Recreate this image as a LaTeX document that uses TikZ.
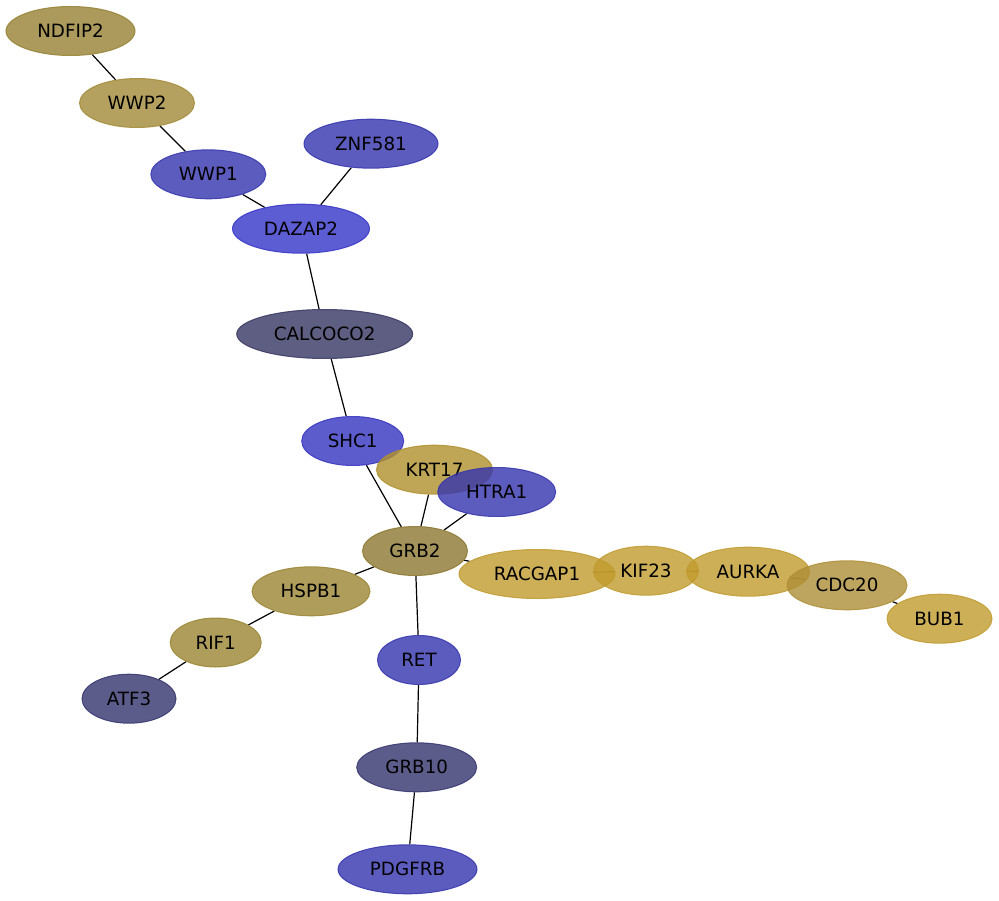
\documentclass[tikz,border=0pt]{standalone}
\usepackage{fontspec}
\setmainfont{DejaVu Sans}
\usetikzlibrary{shapes.geometric,backgrounds}
\definecolor{cgrb}{RGB}{140,119,48}
\definecolor{cndf}{RGB}{150,129,51}
\definecolor{cwwp}{RGB}{163,138,55}
\definecolor{chsp}{RGB}{155,133,51}
\definecolor{ckrt}{RGB}{176,144,46}
\definecolor{cgold}{RGB}{193,155,46}
\definecolor{ccdc}{RGB}{174,143,55}
\definecolor{cblue}{RGB}{52,52,174}
\definecolor{cdaz}{RGB}{52,52,201}
\definecolor{cshc}{RGB}{52,52,193}
\definecolor{ccal}{RGB}{54,54,99}
\definecolor{cslate}{RGB}{52,52,111}
\tikzset{
  gene/.style={ellipse, inner sep=0pt, minimum height=49, line width=1pt,
    fill opacity=0.8, draw opacity=0.85, text opacity=1, text=black,
    font=\fontsize{18.3}{21}\selectfont},
  link/.style={draw=black, line width=1.2pt}
}
\begin{document}
\begin{tikzpicture}[x=1pt,y=-1pt]
\useasboundingbox (0,0) rectangle (999,901);
\node[gene, fill=cndf, draw=cndf, minimum width=129] (NDFIP2) at (70.5,31) {NDFIP2};
\node[gene, fill=cwwp, draw=cwwp, minimum width=115] (WWP2) at (137,103) {WWP2};
\node[gene, fill=cblue, draw=cblue, minimum width=115] (WWP1) at (208.3,174.3) {WWP1};
\node[gene, fill=cblue, draw=cblue, minimum width=134] (ZNF581) at (371,143.7) {ZNF581};
\node[gene, fill=cdaz, draw=cdaz, minimum width=137] (DAZAP2) at (301,228.7) {DAZAP2};
\node[gene, fill=ccal, draw=ccal, minimum width=176] (CALCOCO2) at (324.7,334) {CALCOCO2};
\node[gene, fill=cshc, draw=cshc, minimum width=102] (SHC1) at (352.7,441) {SHC1};
\node[gene, fill=ckrt, draw=ckrt, minimum width=116] (KRT17) at (434.5,469.7) {KRT17};
\node[gene, fill=cblue, draw=cblue, minimum width=118] (HTRA1) at (496.7,492) {HTRA1};
\node[gene, fill=cgrb, draw=cgrb, minimum width=105] (GRB2) at (415,551) {GRB2};
\node[gene, fill=cgold, draw=cgold, minimum width=156] (RACGAP1) at (537,574) {RACGAP1};
\node[gene, fill=cgold, draw=cgold, minimum width=105] (KIF23) at (646,570.7) {KIF23};
\node[gene, fill=cgold, draw=cgold, minimum width=123] (AURKA) at (748,571.7) {AURKA};
\node[gene, fill=ccdc, draw=ccdc, minimum width=120] (CDC20) at (847,585.3) {CDC20};
\node[gene, fill=cgold, draw=cgold, minimum width=105] (BUB1) at (939.5,618.7) {BUB1};
\node[gene, fill=chsp, draw=chsp, minimum width=118] (HSPB1) at (311,591.3) {HSPB1};
\node[gene, fill=chsp, draw=chsp, minimum width=91] (RIF1) at (215.7,642.5) {RIF1};
\node[gene, fill=cslate, draw=cslate, minimum width=94] (ATF3) at (129,698.7) {ATF3};
\node[gene, fill=cblue, draw=cblue, minimum width=83] (RET) at (419,660) {RET};
\node[gene, fill=cslate, draw=cslate, minimum width=120] (GRB10) at (416.7,767.3) {GRB10};
\node[gene, fill=cblue, draw=cblue, minimum width=139] (PDGFRB) at (407.5,869.3) {PDGFRB};
\begin{scope}[on background layer]
\fill[white] (0,0) rectangle (999,901);
\draw[link] (NDFIP2) -- (WWP2);
\draw[link] (WWP2) -- (WWP1);
\draw[link] (WWP1) -- (DAZAP2);
\draw[link] (ZNF581) -- (DAZAP2);
\draw[link] (DAZAP2) -- (CALCOCO2);
\draw[link] (CALCOCO2) -- (SHC1);
\draw[link] (SHC1) -- (GRB2);
\draw[link] (KRT17) -- (GRB2);
\draw[link] (HTRA1) -- (GRB2);
\draw[link] (GRB2) -- (RACGAP1);
\draw[link] (GRB2) -- (HSPB1);
\draw[link] (HSPB1) -- (RIF1);
\draw[link] (RIF1) -- (ATF3);
\draw[link] (GRB2) -- (RET);
\draw[link] (RET) -- (GRB10);
\draw[link] (GRB10) -- (PDGFRB);
\draw[link] (RACGAP1) -- (KIF23);
\draw[link] (KIF23) -- (AURKA);
\draw[link] (AURKA) -- (CDC20);
\draw[link] (CDC20) -- (BUB1);
\end{scope}
\end{tikzpicture}
\end{document}
